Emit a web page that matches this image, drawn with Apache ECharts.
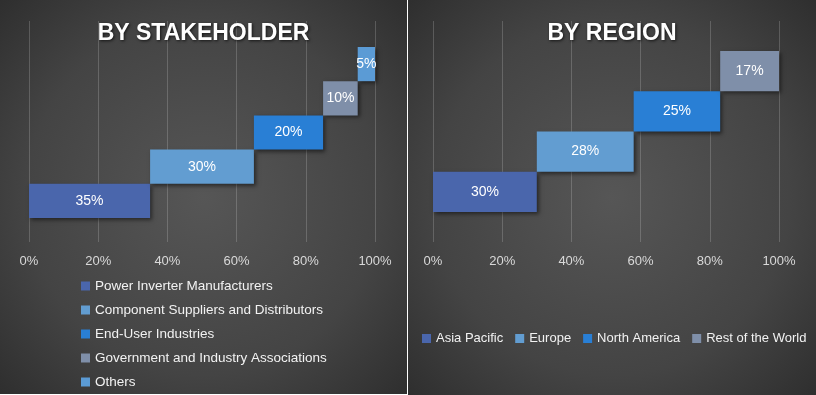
<!DOCTYPE html>
<html><head><meta charset="utf-8">
<script src="https://cdn.jsdelivr.net/npm/echarts@6/dist/echarts.min.js"></script>
<style>
html,body{margin:0;padding:0;background:#ffffff;width:816px;height:395px;overflow:hidden;}
#left{position:absolute;left:0;top:0;width:407px;height:394px;}
#right{position:absolute;left:408px;top:0;width:408px;height:395px;}
</style></head>
<body>
<div id="left"></div><div id="right"></div>
<script>
// ---- data ----
const stakeholderTitle = 'BY STAKEHOLDER';
const stakeholderCategories = ['Power Inverter Manufacturers','Component Suppliers and Distributors','End-User Industries','Government and Industry Associations','Others'];
const stakeholderValues = [35, 30, 20, 10, 5];
const stakeholderColors = ['#4a66ac','#629dd1','#297fd5','#7f8fa9','#5b9bd5'];

const regionTitle = 'BY REGION';
const regionCategories = ['Asia Pacific','Europe','North America','Rest of the World'];
const regionValues = [30, 28, 25, 17];
const regionColors = ['#4a66ac','#629dd1','#297fd5','#7f8fa9'];

const axisTicks = [0, 20, 40, 60, 80, 100];

const FONT = '"Liberation Sans", Arial, sans-serif';

function bg(){
  return {type:'radial', x:0.5, y:0.5, r:0.75,
    colorStops:[{offset:0,color:'#565656'},{offset:0.6,color:'#444444'},{offset:1,color:'#2c2c2c'}]};
}

function buildOption(cfg){
  const offsets = [];
  let acc = 0;
  cfg.values.forEach(v => { offsets.push(acc); acc += v; });
  const series = [{
    name:'_base', type:'bar', stack:'t', xAxisIndex:1, yAxisIndex:1,
    data: offsets, itemStyle:{color:'transparent'}, silent:true,
    barWidth:'100%', barCategoryGap:'0%', label:{show:false}
  }];
  cfg.cats.forEach((c,i)=>{
    const d = cfg.cats.map((_,j)=> j===i ? cfg.values[i] : null);
    series.push({
      name:c, type:'bar', stack:'t', xAxisIndex:1, yAxisIndex:1,
      data:d, barWidth:'100%', barCategoryGap:'0%',
      itemStyle:{color:cfg.colors[i], shadowBlur:4, shadowOffsetX:2, shadowOffsetY:2, shadowColor:'rgba(0,0,0,0.5)'},
      label:{show:true, position:'inside', formatter:'{c}%', color:'#ffffff', fontSize:14, fontFamily:FONT}
    });
  });
  return {
    backgroundColor: bg(),
    animation:false,
    color: cfg.colors,
    title:{text:cfg.title, left:'center', top:17,
      textStyle:{color:'#ffffff', fontSize:23, fontWeight:'bold', fontFamily:FONT,
        textShadowColor:'rgba(0,0,0,0.7)', textShadowBlur:3, textShadowOffsetX:1, textShadowOffsetY:1}},
    legend: cfg.legend,
    grid:[
      {left:cfg.gx, width:346, top:21, height:221},
      {left:cfg.gx, width:346, top:cfg.barTop, height:cfg.barH}
    ],
    xAxis:[
      {type:'value', gridIndex:0, min:axisTicks[0], max:axisTicks[axisTicks.length-1], interval:axisTicks[1]-axisTicks[0],
        axisLine:{show:false}, axisTick:{show:false},
        splitLine:{show:true, lineStyle:{color:'rgba(255,255,255,0.18)', width:1}},
        axisLabel:{formatter:'{value}%', color:'#d9d9d9', fontSize:13, fontFamily:FONT, margin:13}},
      {type:'value', gridIndex:1, min:0, max:100, show:false}
    ],
    yAxis:[
      {type:'category', gridIndex:0, data:cfg.cats, show:false},
      {type:'category', gridIndex:1, data:cfg.cats, show:false}
    ],
    series: series
  };
}

const left = echarts.init(document.getElementById('left'));
left.setOption(buildOption({
  title:stakeholderTitle, cats:stakeholderCategories, values:stakeholderValues, colors:stakeholderColors,
  gx:29, barTop:47, barH:171,
  legend:{data:stakeholderCategories, orient:'vertical', left:81, top:279, padding:0, itemWidth:9, itemHeight:9, itemGap:10,
    icon:'rect', textStyle:{color:'#f2f2f2', fontSize:13.5, fontFamily:FONT}}
}));

const right = echarts.init(document.getElementById('right'));
right.setOption(buildOption({
  title:regionTitle, cats:regionCategories, values:regionValues, colors:regionColors,
  gx:25, barTop:51, barH:161,
  legend:{data:regionCategories, orient:'horizontal', left:9, top:327, itemWidth:9, itemHeight:9, itemGap:12,
    icon:'rect', textStyle:{color:'#f2f2f2', fontSize:13, fontFamily:FONT}}
}));
</script>
</body></html>
